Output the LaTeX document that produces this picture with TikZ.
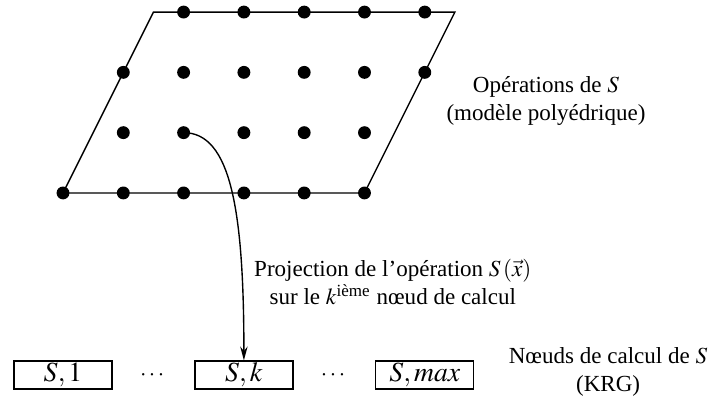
\documentclass[tikz,border=0pt]{standalone}
\usepackage{mathptmx}
\usepackage{amsmath}
\usepackage{fontspec}
\setmainfont{Liberation Serif}
\usetikzlibrary{arrows.meta,positioning}
\tikzset{
  latpt/.style={circle,fill=black,inner sep=0pt,minimum size=5.6pt},
  calcbox/.style={draw,semithick,font=\large,minimum width=1.495cm,minimum height=0.427cm,inner sep=0pt},
}
\begin{document}
\begin{tikzpicture}[x=0.92cm,y=0.92cm]
  \useasboundingbox (-1.045,-3.416) rectangle (10.697,3.2);
  % Polyhedral domain
  \draw[semithick] (0,0) -- (5,0) -- (6.5,3) -- (1.5,3) -- cycle;
  % Lattice points, row by row
  \foreach \j/\imin/\imax in {0/0/5,1/1/5,2/1/6,3/2/6}
    \foreach \i in {\imin,...,\imax}
      \node[latpt] (p\i\j) at (\i,\j) {};
  \node[align=center] (ops) at (8.01,1.53) {Opérations de $S$\\(modèle polyédrique)};
  % Calculation nodes
  \node[calcbox] (n1) at (0,-3.02) {$S,1$};
  \node[calcbox] (nk) at (3,-3.02) {$S,k$};
  \node[calcbox] (nmax) at (6,-3.02) {$S,max$};
  \node (dots1) at (1.5,-3.02) {$\cdots$};
  \node (dots2) at (4.5,-3.02) {$\cdots$};
  \node[align=center] (krg) at (9.04,-2.97) {Nœuds de calcul de $S$\\(KRG)};
  % Projection
  \draw[semithick,-{Stealth[length=6pt,width=3.2pt]}] (p21.center)
    to[out=0,in=90,out distance=0.72cm,in distance=2.29cm] (nk.north);
  \node[align=center] (proj) at (5.47,-1.48) {Projection de l'opération $S\,(\vec{x})$\\sur le $k^{\text{ième}}$ nœud de calcul};
\end{tikzpicture}
\end{document}
